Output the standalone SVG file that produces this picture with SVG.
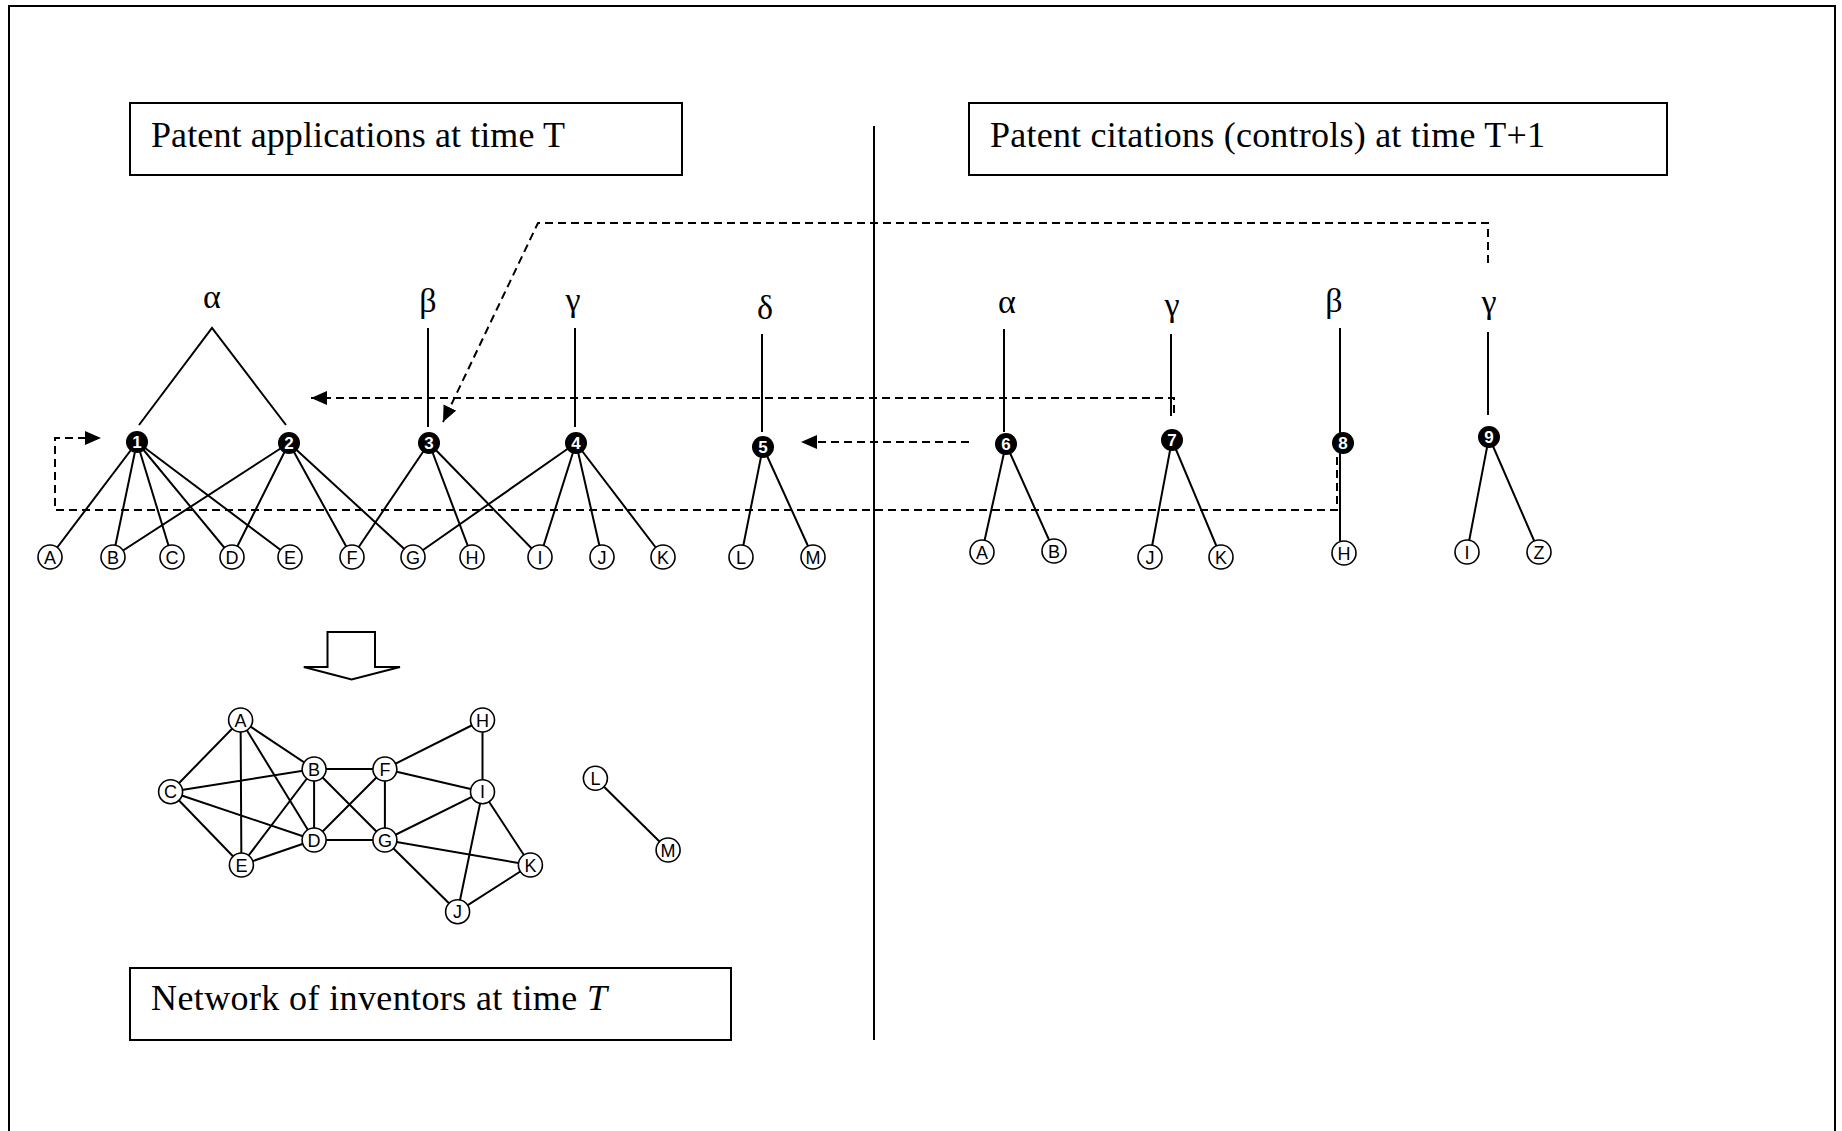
<svg xmlns="http://www.w3.org/2000/svg" width="1842" height="1131" viewBox="0 0 1842 1131">
<style>
.frame{fill:none;stroke:#000;stroke-width:2}
.box{fill:#fff;stroke:#000;stroke-width:2}
.title{font-family:"Liberation Serif",serif;font-size:36px;fill:#000}
.greek{font-family:"Liberation Serif",serif;font-size:34px;text-anchor:middle;fill:#000}
.edge{stroke:#000;stroke-width:2;fill:none}
.dash{stroke:#000;stroke-width:2;fill:none;stroke-dasharray:8 5}
.inv circle{fill:#fff;stroke:#000;stroke-width:1.6}
.inv text{font-family:"Liberation Sans",Arial,sans-serif;font-size:18px;text-anchor:middle;fill:#000}
.pat circle{fill:#000}
.pat text{font-family:"Liberation Sans",Arial,sans-serif;font-weight:bold;font-size:17px;text-anchor:middle;fill:#fff}
</style>
<defs>
<marker id="ah" markerUnits="userSpaceOnUse" markerWidth="18" markerHeight="16" refX="16" refY="7" orient="auto">
<path d="M0,0 L16,7 L0,14 z" fill="#000"/>
</marker>
</defs>
<rect x="0" y="0" width="1842" height="1131" fill="#fff"/>
<rect class="frame" x="9" y="6" width="1826" height="1140"/>
<line x1="874" y1="126" x2="874" y2="1040" stroke="#000" stroke-width="2"/>

<g id="box-applications">
<rect class="box" x="130" y="103" width="552" height="72"/>
<text class="title" x="151" y="147" textLength="414">Patent applications at time T</text>
</g>
<g id="box-citations">
<rect class="box" x="969" y="103" width="698" height="72"/>
<text class="title" x="990" y="147" textLength="555">Patent citations (controls) at time T+1</text>
</g>
<g id="box-network">
<rect class="box" x="130" y="968" width="601" height="72"/>
<text class="title" x="151" y="1010" textLength="456">Network of inventors at time <tspan font-style="italic">T</tspan></text>
</g>

<g id="labels">
<text class="greek" x="212" y="308">α</text>
<text class="greek" x="428" y="312">β</text>
<text class="greek" x="573" y="311">γ</text>
<text class="greek" x="765" y="319">δ</text>
<text class="greek" x="1007" y="313">α</text>
<text class="greek" x="1172" y="316">γ</text>
<text class="greek" x="1334" y="312">β</text>
<text class="greek" x="1489" y="313">γ</text>
</g>

<g id="connectors">
<path class="edge" d="M139,425 L212,328 L286,425"/>
<path class="edge" d="M428,328 V427"/>
<path class="edge" d="M575,328 V427"/>
<path class="edge" d="M762,334 V432"/>
<path class="edge" d="M137,442 L50,557 M137,442 L113,557 M137,442 L172,557 M137,442 L232,557 M137,442 L290,557"/>
<path class="edge" d="M289,443 L113,557 M289,443 L232,557 M289,443 L352,557 M289,443 L413,557"/>
<path class="edge" d="M429,443 L352,557 M429,443 L472,557 M429,443 L540,557"/>
<path class="edge" d="M576,443 L413,557 M576,443 L540,557 M576,443 L602,557 M576,443 L663,557"/>
<path class="edge" d="M763,447 L741,557 M763,447 L813,557"/>
<path class="edge" d="M1004,329 V432"/>
<path class="edge" d="M1006,444 L982,552 M1006,444 L1054,551"/>
<path class="edge" d="M1171,334 V416"/>
<path class="edge" d="M1172,440 L1150,557 M1172,440 L1221,557"/>
<path class="edge" d="M1340,328 V541"/>
<path class="edge" d="M1488,332 V415"/>
<path class="edge" d="M1489,437 L1467,552 M1489,437 L1539,552"/>
<path class="dash" d="M1337,457 V510 H55 V438 H101" marker-end="url(#ah)"/>
<path class="dash" d="M1174,413 V398 H311" marker-end="url(#ah)"/>
<path class="dash" d="M969,442 H801" marker-end="url(#ah)"/>
<path class="dash" d="M1488,263 V223 H538 L443,422" marker-end="url(#ah)"/>
<polygon points="327.5,632 375,632 375,667 400,667 351.6,679.5 303.8,667 327.5,667" fill="#fff" stroke="#000" stroke-width="2"/>
<path class="edge" d="M240.6,720 L170.6,791.7 M240.6,720 L314.1,769 M240.6,720 L241.4,865 M240.6,720 L314.1,840 M170.6,791.7 L314.1,769 M170.6,791.7 L314.1,840 M170.6,791.7 L241.4,865 M314.1,769 L314.1,840 M314.1,769 L241.4,865 M314.1,769 L384.9,769 M314.1,769 L384.9,840 M314.1,840 L384.9,769 M314.1,840 L384.9,840 M314.1,840 L241.4,865 M384.9,769 L384.9,840 M384.9,769 L482.5,720 M384.9,769 L482.5,791.7 M482.5,720 L482.5,791.7 M482.5,791.7 L384.9,840 M482.5,791.7 L457.6,911.7 M482.5,791.7 L530.4,865 M384.9,840 L530.4,865 M384.9,840 L457.6,911.7 M457.6,911.7 L530.4,865 M595.4,778.3 L668.1,850"/>
</g>

<g id="p1" class="pat"><circle cx="137" cy="442" r="11"/><text x="137" y="448">1</text></g>
<g id="p2" class="pat"><circle cx="289" cy="443" r="11"/><text x="289" y="449">2</text></g>
<g id="p3" class="pat"><circle cx="429" cy="443" r="11"/><text x="429" y="449">3</text></g>
<g id="p4" class="pat"><circle cx="576" cy="443" r="11"/><text x="576" y="449">4</text></g>
<g id="p5" class="pat"><circle cx="763" cy="447" r="11"/><text x="763" y="453">5</text></g>
<g id="p6" class="pat"><circle cx="1006" cy="444" r="11"/><text x="1006" y="450">6</text></g>
<g id="p7" class="pat"><circle cx="1172" cy="440" r="11"/><text x="1172" y="446">7</text></g>
<g id="p8" class="pat"><circle cx="1343" cy="443" r="11"/><text x="1343" y="449">8</text></g>
<g id="p9" class="pat"><circle cx="1489" cy="437" r="11"/><text x="1489" y="443">9</text></g>

<g id="a1" class="inv"><circle cx="50" cy="557" r="12"/><text x="50" y="563.5">A</text></g>
<g id="b1" class="inv"><circle cx="113" cy="557" r="12"/><text x="113" y="563.5">B</text></g>
<g id="c1" class="inv"><circle cx="172" cy="557" r="12"/><text x="172" y="563.5">C</text></g>
<g id="d1" class="inv"><circle cx="232" cy="557" r="12"/><text x="232" y="563.5">D</text></g>
<g id="e1" class="inv"><circle cx="290" cy="557" r="12"/><text x="290" y="563.5">E</text></g>
<g id="f1" class="inv"><circle cx="352" cy="557" r="12"/><text x="352" y="563.5">F</text></g>
<g id="g1" class="inv"><circle cx="413" cy="557" r="12"/><text x="413" y="563.5">G</text></g>
<g id="h1" class="inv"><circle cx="472" cy="557" r="12"/><text x="472" y="563.5">H</text></g>
<g id="i1" class="inv"><circle cx="540" cy="557" r="12"/><text x="540" y="563.5">I</text></g>
<g id="j1" class="inv"><circle cx="602" cy="557" r="12"/><text x="602" y="563.5">J</text></g>
<g id="k1" class="inv"><circle cx="663" cy="557" r="12"/><text x="663" y="563.5">K</text></g>
<g id="l1" class="inv"><circle cx="741" cy="557" r="12"/><text x="741" y="563.5">L</text></g>
<g id="m1" class="inv"><circle cx="813" cy="557" r="12"/><text x="813" y="563.5">M</text></g>

<g id="a2" class="inv"><circle cx="982" cy="552" r="12"/><text x="982" y="558.5">A</text></g>
<g id="b2" class="inv"><circle cx="1054" cy="551" r="12"/><text x="1054" y="557.5">B</text></g>
<g id="j2" class="inv"><circle cx="1150" cy="557" r="12"/><text x="1150" y="563.5">J</text></g>
<g id="k2" class="inv"><circle cx="1221" cy="557" r="12"/><text x="1221" y="563.5">K</text></g>
<g id="h2" class="inv"><circle cx="1344" cy="553" r="12"/><text x="1344" y="559.5">H</text></g>
<g id="i2" class="inv"><circle cx="1467" cy="552" r="12"/><text x="1467" y="558.5">I</text></g>
<g id="z2" class="inv"><circle cx="1539" cy="552" r="12"/><text x="1539" y="558.5">Z</text></g>

<g id="nA" class="inv"><circle cx="240.6" cy="720" r="12"/><text x="240.6" y="726.5">A</text></g>
<g id="nB" class="inv"><circle cx="314.1" cy="769" r="12"/><text x="314.1" y="775.5">B</text></g>
<g id="nC" class="inv"><circle cx="170.6" cy="791.7" r="12"/><text x="170.6" y="798.2">C</text></g>
<g id="nD" class="inv"><circle cx="314.1" cy="840" r="12"/><text x="314.1" y="846.5">D</text></g>
<g id="nE" class="inv"><circle cx="241.4" cy="865" r="12"/><text x="241.4" y="871.5">E</text></g>
<g id="nF" class="inv"><circle cx="384.9" cy="769" r="12"/><text x="384.9" y="775.5">F</text></g>
<g id="nG" class="inv"><circle cx="384.9" cy="840" r="12"/><text x="384.9" y="846.5">G</text></g>
<g id="nH" class="inv"><circle cx="482.5" cy="720" r="12"/><text x="482.5" y="726.5">H</text></g>
<g id="nI" class="inv"><circle cx="482.5" cy="791.7" r="12"/><text x="482.5" y="798.2">I</text></g>
<g id="nJ" class="inv"><circle cx="457.6" cy="911.7" r="12"/><text x="457.6" y="918.2">J</text></g>
<g id="nK" class="inv"><circle cx="530.4" cy="865" r="12"/><text x="530.4" y="871.5">K</text></g>
<g id="nL" class="inv"><circle cx="595.4" cy="778.3" r="12"/><text x="595.4" y="784.8">L</text></g>
<g id="nM" class="inv"><circle cx="668.1" cy="850" r="12"/><text x="668.1" y="856.5">M</text></g>
</svg>
